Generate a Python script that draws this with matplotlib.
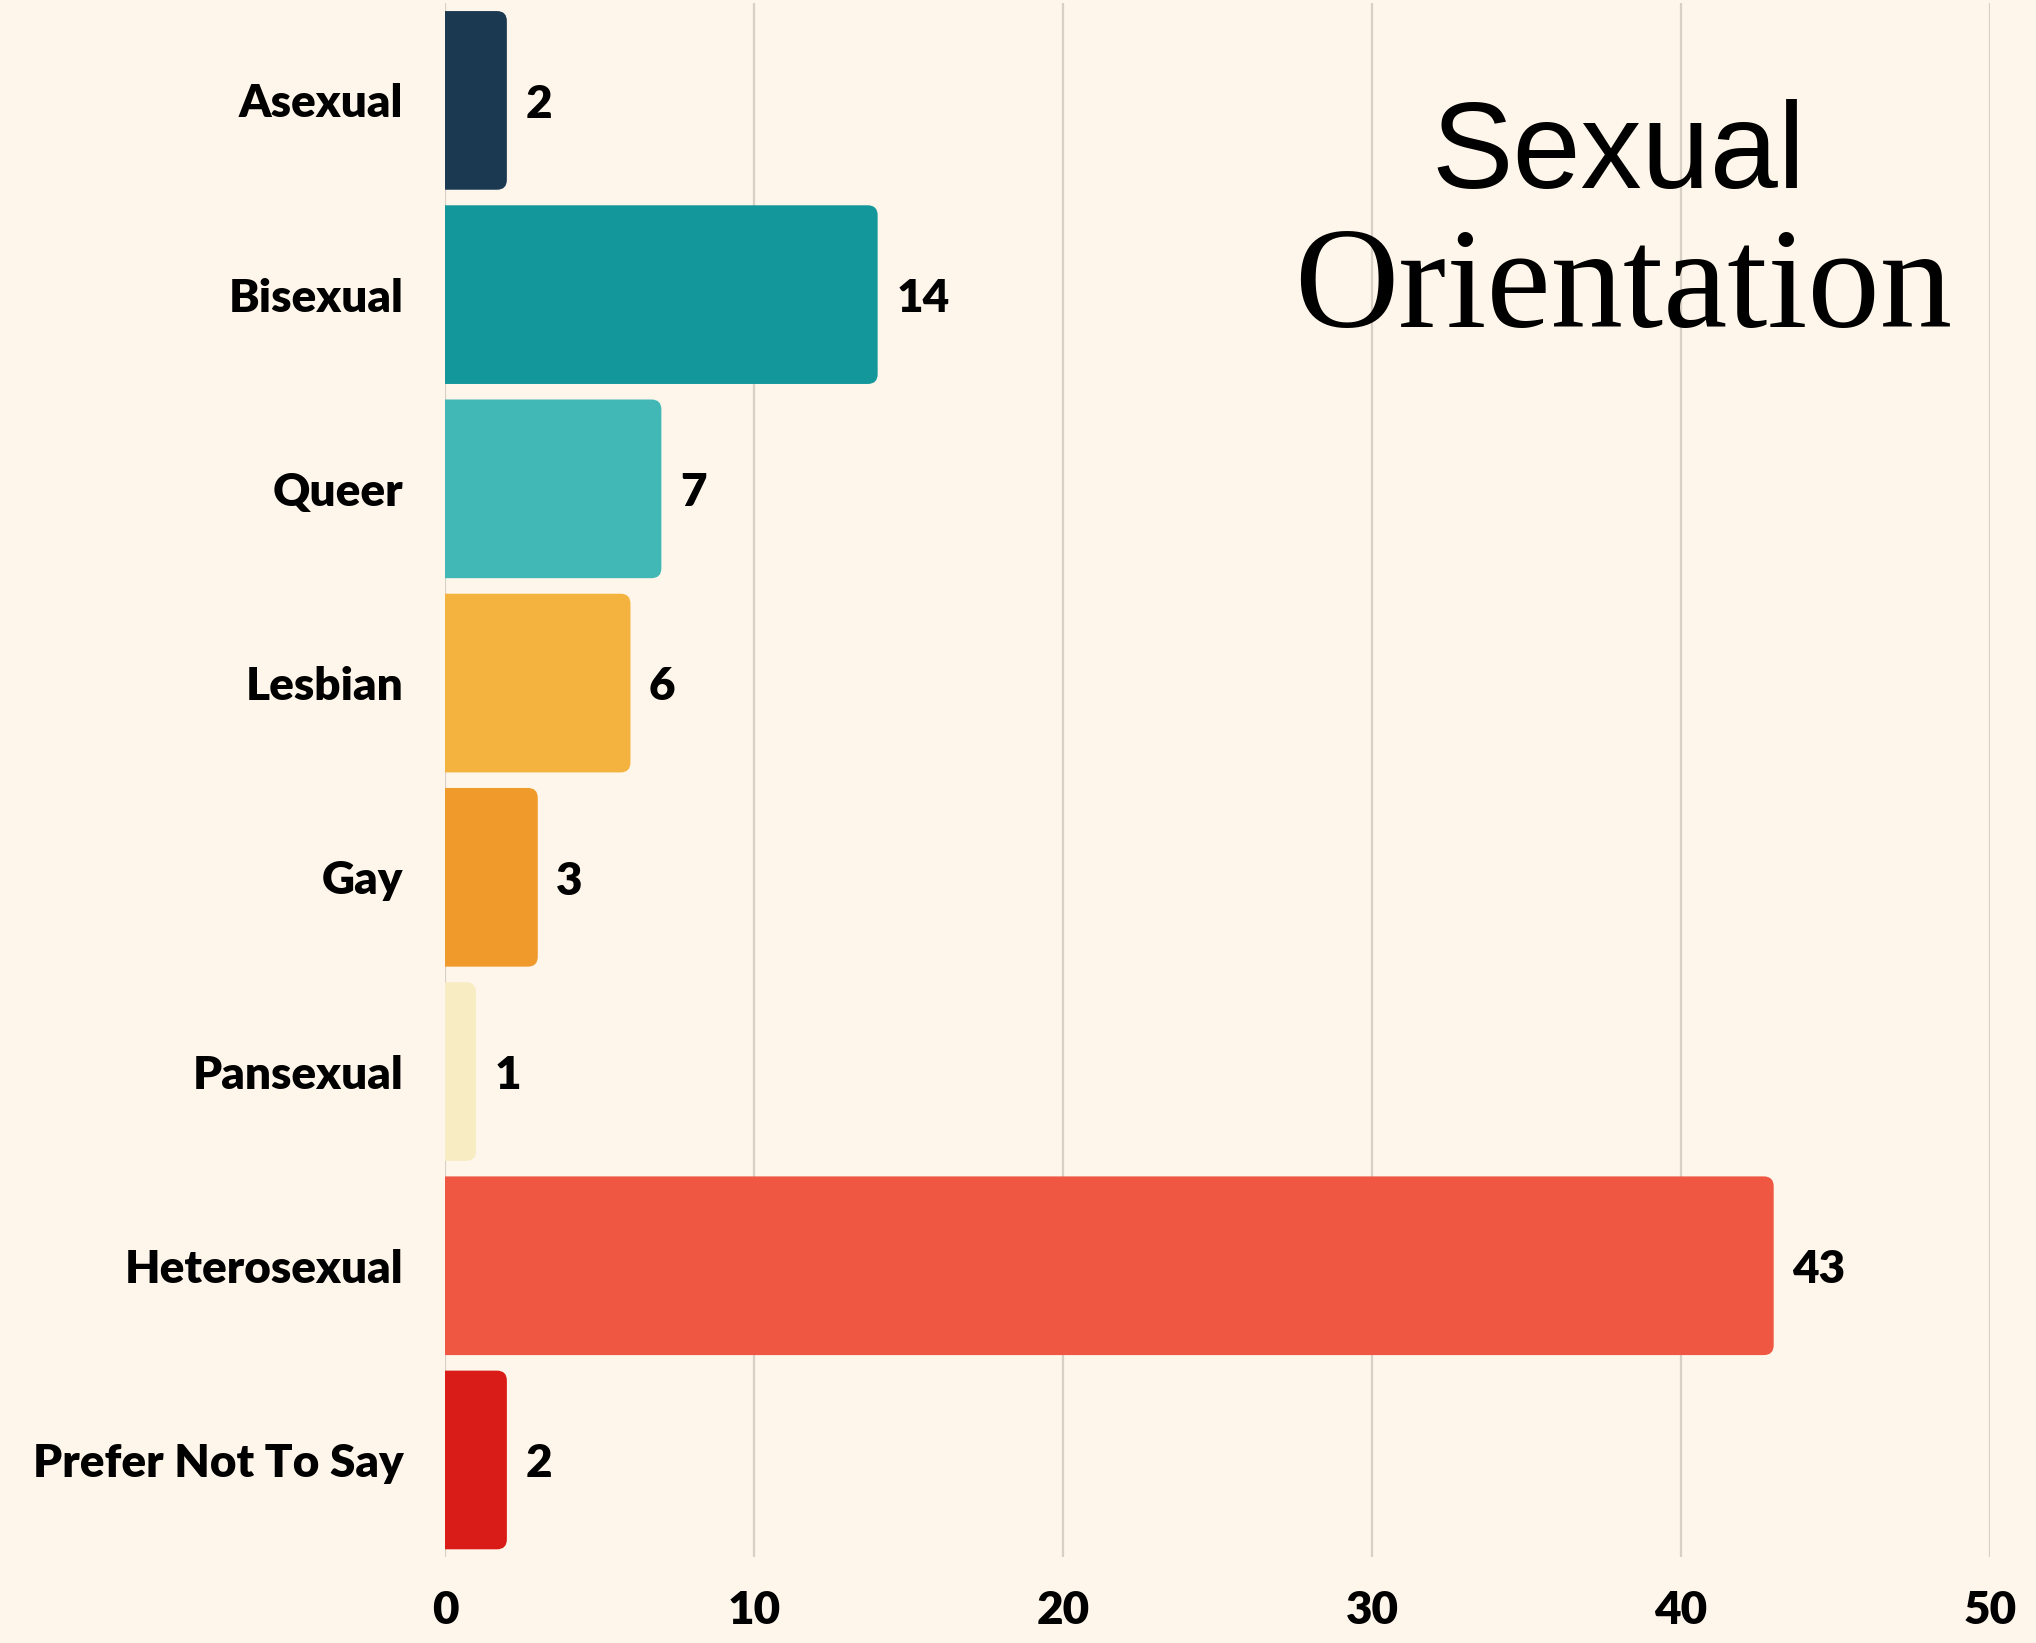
import matplotlib.pyplot as plt
from matplotlib.patches import FancyBboxPatch

categories = ['Asexual', 'Bisexual', 'Queer', 'Lesbian', 'Gay', 'Pansexual',
              'Heterosexual', 'Prefer Not To Say']
counts = [2, 14, 7, 6, 3, 1, 43, 2]
colors = ['#1B3A52', '#14979A', '#41B8B5', '#F4B33E', '#EF9A2A', '#F8ECC2',
          '#F05742', '#D91C17']
xticks = [0, 10, 20, 30, 40, 50]

bg = '#FEF6EA'
lab_font = ['Lato', 'DejaVu Sans']

fig = plt.figure(figsize=(20.36, 16.43), dpi=100, facecolor=bg)
ax = fig.add_axes([0.2186, 0.0523, 0.7588, 0.9457])
ax.set_facecolor(bg)

bar_h = 0.92
# px per unit: x ~30.9, y ~194 -> keep corners round
r = 0.32
aspect = (10 / 194) / (10 / 30.9)
for i, (v, c) in enumerate(zip(counts, colors)):
    p = FancyBboxPatch((-1, i - bar_h / 2), v + 1, bar_h,
                       boxstyle=f'round,pad=0,rounding_size={r}',
                       mutation_aspect=aspect, facecolor=c, edgecolor='none',
                       zorder=3)
    ax.add_patch(p)
    ax.text(v + 0.6, i + 0.02, str(v), va='center', ha='left', fontsize=33,
            fontweight='heavy', family=lab_font, zorder=4)

ax.set_xlim(0, 50)
ax.set_ylim(len(categories) - 0.5, -0.5)
ax.set_yticks(range(len(categories)))
ax.set_yticklabels(categories, fontsize=33, fontweight='heavy', family=lab_font)
ax.set_xticks(xticks)
ax.set_xticklabels([str(t) for t in xticks], fontsize=33, fontweight='heavy',
                   family=lab_font)
ax.tick_params(axis='y', length=0, pad=30)
ax.tick_params(axis='x', length=0, pad=24)
ax.grid(axis='x', color='#D8D0C4', linewidth=1.6, zorder=0)
for s in ax.spines.values():
    s.set_visible(False)

fig.text(0.795, 0.8856, 'Sexual', ha='center', va='baseline', fontsize=88,
         family=['Liberation Sans', 'DejaVu Sans'])
fig.text(0.797, 0.801, 'Orientation', ha='center', va='baseline', fontsize=104,
         family=['Liberation Serif', 'DejaVu Serif'])

fig.savefig('out.png', dpi=100, facecolor=bg)
